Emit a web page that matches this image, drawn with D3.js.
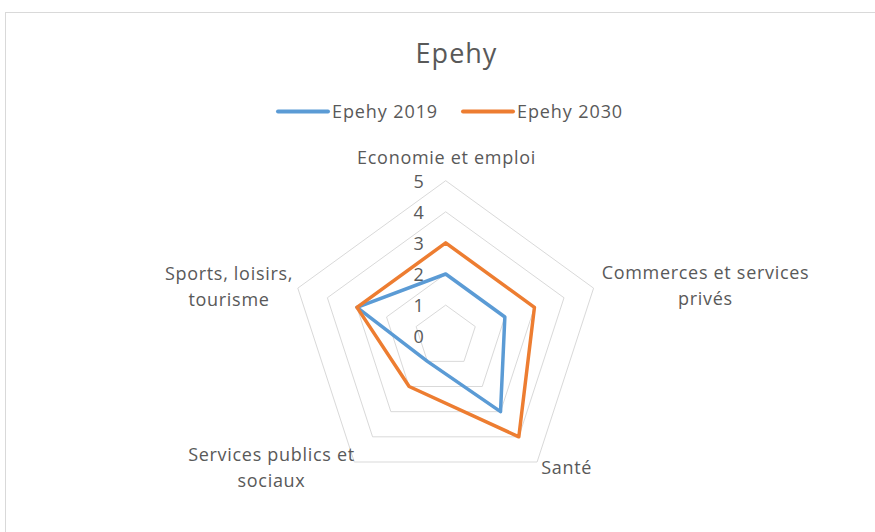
<!DOCTYPE html>
<html>
<head>
<meta charset="utf-8">
<script src="https://cdn.jsdelivr.net/npm/d3@7"></script>
<style>
  body { margin: 0; background: #fff; }
  svg text { font-family: "Open Sans", "Noto Sans", sans-serif; fill: #595959; }
</style>
</head>
<body>
<div id="chart"></div>
<script>
const categories = ["Economie et emploi", "Commerces et services privés", "Santé", "Services publics et sociaux", "Sports, loisirs, tourisme"];
const labelLines = [["Economie et emploi"], ["Commerces et services", "privés"], ["Santé"], ["Services publics et", "sociaux"], ["Sports, loisirs,", "tourisme"]];
const values2019 = [2, 2, 3, 1, 3];
const values2030 = [3, 3, 4, 2, 3];
const seriesNames = ["Epehy 2019", "Epehy 2030"];
const ticks = [0, 1, 2, 3, 4, 5];

const width = 875, height = 532;
const cx = 445.7, cy = 336.2, radius = 155.5;
const colors = ["#5B9BD5", "#ED7D31"];

const svg = d3.select("#chart").append("svg")
  .attr("width", width)
  .attr("height", height);

// chart border
svg.append("rect")
  .attr("x", 5.5).attr("y", 12.5)
  .attr("width", 900).attr("height", 600)
  .attr("fill", "none").attr("stroke", "#d9d9d9");

svg.append("text")
  .attr("x", 456.5).attr("y", 63)
  .attr("text-anchor", "middle")
  .style("font-size", "27px")
  .style("letter-spacing", "1px")
  .text("Epehy");

// legend
const legendX = [278, 463];
seriesNames.forEach((name, i) => {
  svg.append("line")
    .attr("x1", legendX[i]).attr("x2", legendX[i] + 50)
    .attr("y1", 111.5).attr("y2", 111.5)
    .attr("stroke", colors[i]).attr("stroke-width", 4)
    .attr("stroke-linecap", "round");
  svg.append("text")
    .attr("x", legendX[i] + 54).attr("y", 118)
    .style("font-size", "18px")
    .style("letter-spacing", "0.9px")
    .text(name);
});

const r = d3.scaleLinear().domain([0, 5]).range([0, radius]);
const angle = i => i * 2 * Math.PI / categories.length;

const g = svg.append("g").attr("transform", `translate(${cx},${cy})`);

const radial = d3.lineRadial()
  .angle((d, i) => angle(i))
  .radius(d => r(d))
  .curve(d3.curveLinearClosed);

// grid pentagons
ticks.filter(t => t > 0).forEach(t => {
  g.append("path")
    .attr("d", radial(categories.map(() => t)))
    .attr("fill", "none")
    .attr("stroke", "#d9d9d9")
    .attr("stroke-width", 1);
});

// tick labels
g.selectAll(".tick")
  .data(ticks)
  .enter().append("text")
  .attr("x", -22)
  .attr("y", d => -r(d) + 7)
  .attr("text-anchor", "end")
  .style("font-size", "18px")
  .text(d => d);

// series
[values2019, values2030].forEach((vals, i) => {
  g.append("path")
    .attr("d", radial(vals))
    .attr("fill", "none")
    .attr("stroke", colors[i])
    .attr("stroke-width", 3.5)
    .attr("stroke-linejoin", "round");
});

// category labels
const labelPos = [[446.5, 164], [705.5, 279], [566.7, 474], [271.5, 461], [229, 280]];
labelLines.forEach((lines, i) => {
  const t = svg.append("text")
    .attr("x", labelPos[i][0]).attr("y", labelPos[i][1])
    .attr("text-anchor", "middle")
    .style("font-size", "18px")
    .style("letter-spacing", "0.7px");
  lines.forEach((ln, j) => {
    t.append("tspan")
      .attr("x", labelPos[i][0])
      .attr("dy", j === 0 ? 0 : 26)
      .text(ln);
  });
});
</script>
</body>
</html>
